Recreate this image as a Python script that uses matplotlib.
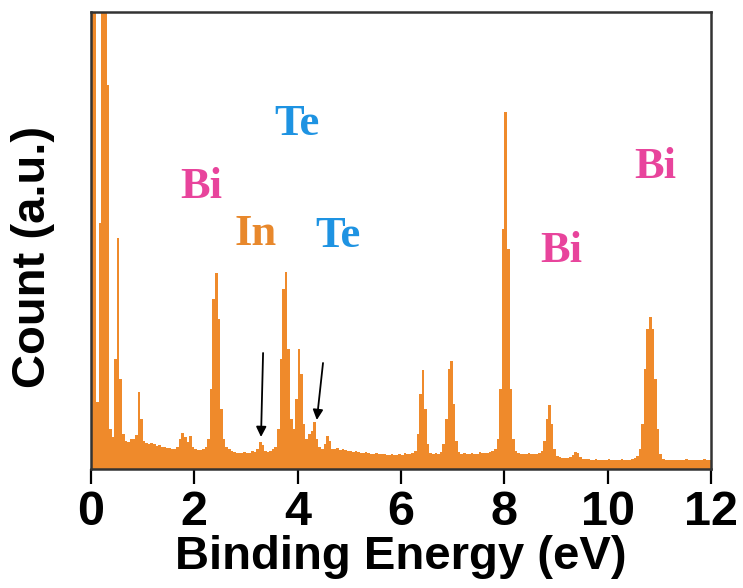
import numpy as np
import matplotlib
matplotlib.use("Agg")
import matplotlib.pyplot as plt

# Spectrum counts, one value per 0.05 eV bin (arbitrary units)
bin_width = 0.05
counts = (
    [600, 600, 67, 246, 600, 600, 384, 40, 32, 110, 231, 90, 35,
     28, 27, 30, 30, 34, 77, 50, 28]
    + [26, 25, 26, 25, 23, 24, 22, 22, 21, 21, 20, 20, 22]
    + [30, 36, 32, 27, 33]
    + [22, 20, 19, 19, 20, 22]
    + [30, 80, 170, 196, 150, 60, 30, 22]
    + [20, 18, 17, 16, 16, 16, 17, 16, 16, 18, 17]
    + [20, 27, 24, 18, 17, 18, 20, 22]
    + [40, 110, 180, 197, 120, 50]
    + [40, 70, 120, 95, 45, 30, 35]
    + [38, 47, 30, 22, 20]
    + [25, 33, 28, 20]
    + [20, 21, 19, 20, 19, 18, 18, 17, 18, 17, 16, 16, 17, 16, 15, 15,
       16, 15, 15, 15, 14, 14, 15, 14, 14, 15, 14, 16, 15, 15, 16, 18]
    + [35, 75, 99, 60, 25]
    + [16, 15, 16, 15, 17, 25]
    + [50, 100, 108, 65, 28, 17]
    + [15, 16, 15, 15, 16, 15, 15, 17, 16, 16, 16, 17, 18, 20]
    + [30, 80, 240, 357, 220, 80, 30, 18]
    + [16, 15, 15, 15, 16, 15, 15, 15, 16, 18]
    + [28, 50, 64, 45, 20, 13]
    + [12, 11, 11, 11, 12]
    + [14, 17, 16, 12]
    + [10, 10, 10, 9, 9, 10, 9, 9, 9, 9, 10, 9, 9, 9, 9, 10, 9, 9, 9, 10, 11, 13]
    + [20, 45, 100, 140, 152, 140, 90, 40, 15]
    + [10, 9, 9, 9, 9, 9, 9, 9, 9, 10, 9, 9, 9, 9, 9, 9, 10, 9, 9]
)
edges = np.arange(len(counts) + 1) * bin_width

# Element labels: text, x (eV), y (counts), colour
label_text = ["Bi", "Te", "In", "Te", "Bi", "Bi"]
label_x = [2.13, 3.99, 3.19, 4.78, 9.10, 10.92]
label_y = [271, 334, 224, 222, 207, 291]
label_color = ["#e8449c", "#1e93e2", "#e8882c", "#1e93e2", "#e8449c", "#e8449c"]

# Arrows marking weak peaks: tail -> tip
arrow_tail = [(3.33, 116), (4.49, 106)]
arrow_tip = [(3.29, 32), (4.37, 49)]

xticks = [0, 2, 4, 6, 8, 10, 12]

fig = plt.figure(figsize=(7.43, 5.88), dpi=100)
ax = fig.add_axes([0.1225, 0.2024, 0.8345, 0.7772])

# step fill as one polygon (value held over each bin)
yfill = np.append(counts, counts[-1])
ax.fill_between(edges, yfill, 0, step="post", color="#ef8a2b", linewidth=0)

ax.set_xlim(0, 12)
ax.set_ylim(0, 457)
ax.set_xticks(xticks)
ax.set_yticks([])
ax.tick_params(axis="x", direction="out", length=11, width=1.6, pad=4,
               labelsize=35, colors="black")
for lab in ax.get_xticklabels():
    lab.set_fontfamily("Liberation Sans")
    lab.set_fontweight("bold")

for s in ax.spines.values():
    s.set_linewidth(1.8)
    s.set_color("#333333")

ax.set_xlabel("Binding Energy (eV)", fontsize=34, fontweight="bold",
              family="Liberation Sans", labelpad=0)
ax.set_ylabel("Count (a.u.)", fontsize=34, fontweight="bold",
              family="Liberation Sans")
ax.yaxis.set_label_coords(-0.058, 0.464)

for t, x, y, c in zip(label_text, label_x, label_y, label_color):
    ax.text(x, y, t, color=c, fontsize=32, fontweight="bold",
            family="Liberation Serif", ha="center", va="baseline")

for tail, tip in zip(arrow_tail, arrow_tip):
    ax.annotate("", xy=tip, xytext=tail,
                arrowprops=dict(arrowstyle="-|>", color="black", lw=1.3,
                                mutation_scale=15, shrinkA=0, shrinkB=0))

fig.savefig("out.png", dpi=100)
